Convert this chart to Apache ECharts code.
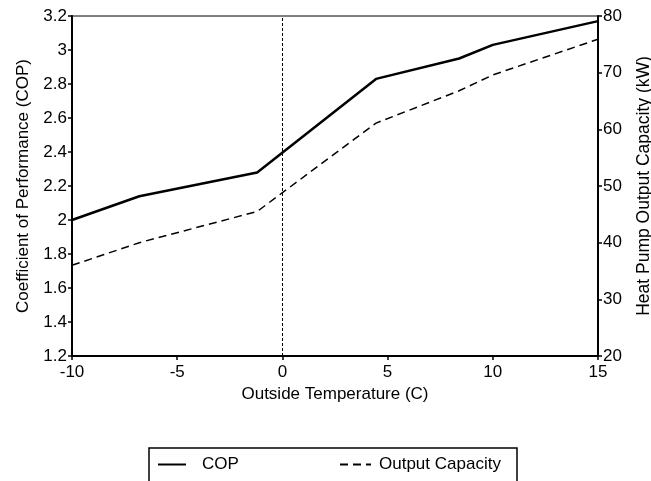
<!DOCTYPE html>
<html>
<head>
<meta charset="utf-8">
<script src="https://cdn.jsdelivr.net/npm/echarts@6/dist/echarts.min.js"></script>
<style>
html,body{margin:0;padding:0;background:#fff;}
#chart{width:651px;height:481px;}
</style>
</head>
<body>
<div id="chart"></div>
<script>
// Data
var temperatures = [-10, -6.8, -1.2, 4.45, 8.4, 10, 15];
var copValues = [2.0, 2.14, 2.28, 2.83, 2.95, 3.03, 3.17];
var capacityValues = [36, 40, 45.5, 61.1, 66.8, 69.6, 75.9];
var xTicks = [-10, -5, 0, 5, 10, 15];
var copTicks = [1.2, 1.4, 1.6, 1.8, 2, 2.2, 2.4, 2.6, 2.8, 3, 3.2];
var capTicks = [20, 30, 40, 50, 60, 70, 80];
var seriesNames = ['COP', 'Output Capacity'];

var FONT = '"Liberation Sans", Arial, Helvetica, sans-serif';
var FS = 17;
var chart = echarts.init(document.getElementById('chart'), null, {renderer: 'canvas'});

function pairs(xs, ys) { return xs.map(function (x, i) { return [x, ys[i]]; }); }

var option = {
  backgroundColor: '#fff',
  animation: false,
  textStyle: {fontFamily: FONT, color: '#000'},
  grid: {left: 72, right: 53, top: 16, bottom: 125, show: true, borderColor: '#000', borderWidth: 1,
    backgroundColor: 'transparent', containLabel: false, outerBoundsMode: 'none'},
  legend: [
    {
      data: [seriesNames[0]], left: 157, top: 456, itemWidth: 28, itemHeight: 14, padding: 0,
      itemStyle: {opacity: 0},
      textStyle: {fontFamily: FONT, fontSize: FS, color: '#000', padding: [0, 0, 0, 11]}
    },
    {
      data: [seriesNames[1]], left: 339, top: 456, itemWidth: 31, itemHeight: 14, padding: 0,
      itemStyle: {opacity: 0},
      textStyle: {fontFamily: FONT, fontSize: FS, color: '#000', padding: [0, 0, 0, 3]}
    }
  ],
  graphic: [{
    type: 'rect', shape: {x: 149, y: 448, width: 368, height: 60},
    style: {fill: 'none', stroke: '#000', lineWidth: 1.5}, z: 10
  }],
  xAxis: {
    type: 'value', min: xTicks[0], max: xTicks[xTicks.length - 1], interval: 5,
    name: 'Outside Temperature (C)', nameLocation: 'middle', nameGap: 28,
    nameTextStyle: {fontFamily: FONT, fontSize: FS, color: '#000'},
    axisLine: {show: true, onZero: false, lineStyle: {color: '#000', width: 2}},
    axisTick: {show: true, inside: false, length: 4, lineStyle: {color: '#000', width: 1.5}},
    axisLabel: {fontFamily: FONT, fontSize: FS, color: '#000', margin: 8},
    splitLine: {show: false}
  },
  yAxis: [
    {
      type: 'value', position: 'left', min: copTicks[0], max: copTicks[copTicks.length - 1], interval: 0.2,
      name: 'Coefficient of Performance (COP)', nameLocation: 'middle', nameGap: 40, nameRotate: 90,
      nameTextStyle: {fontFamily: FONT, fontSize: FS, color: '#000'},
      axisLine: {show: true, onZero: false, lineStyle: {color: '#000', width: 2}},
      axisTick: {show: true, inside: false, length: 4, lineStyle: {color: '#000', width: 1.5}},
      axisLabel: {fontFamily: FONT, fontSize: FS, color: '#000', margin: 5,
        formatter: function (v) { return String(Math.round(v * 10) / 10); }},
      splitLine: {show: false}
    },
    {
      type: 'value', position: 'right', min: capTicks[0], max: capTicks[capTicks.length - 1], interval: 10,
      name: 'Heat Pump Output Capacity (kW)', nameLocation: 'middle', nameGap: 37, nameRotate: 90,
      nameTextStyle: {fontFamily: FONT, fontSize: 17.5, color: '#000'},
      axisLine: {show: true, onZero: false, lineStyle: {color: '#000', width: 2}},
      axisTick: {show: true, inside: false, length: 4, lineStyle: {color: '#000', width: 1.5}},
      axisLabel: {fontFamily: FONT, fontSize: FS, color: '#000', margin: 5},
      splitLine: {show: false}
    }
  ],
  series: [
    {
      name: seriesNames[0], type: 'line', yAxisIndex: 0, data: pairs(temperatures, copValues),
      symbol: 'none', lineStyle: {color: '#000', width: 2.5}, itemStyle: {color: '#000'},
      markLine: {
        silent: true, symbol: 'none', label: {show: false},
        lineStyle: {color: '#000', width: 1, type: [3, 2]},
        data: [{xAxis: 0}]
      }
    },
    {
      name: seriesNames[1], type: 'line', yAxisIndex: 1, data: pairs(temperatures, capacityValues),
      symbol: 'none', lineStyle: {color: '#000', width: 1.5, type: [8, 5]}, itemStyle: {color: '#000'}
    }
  ]
};
chart.setOption(option);
</script>
</body>
</html>
